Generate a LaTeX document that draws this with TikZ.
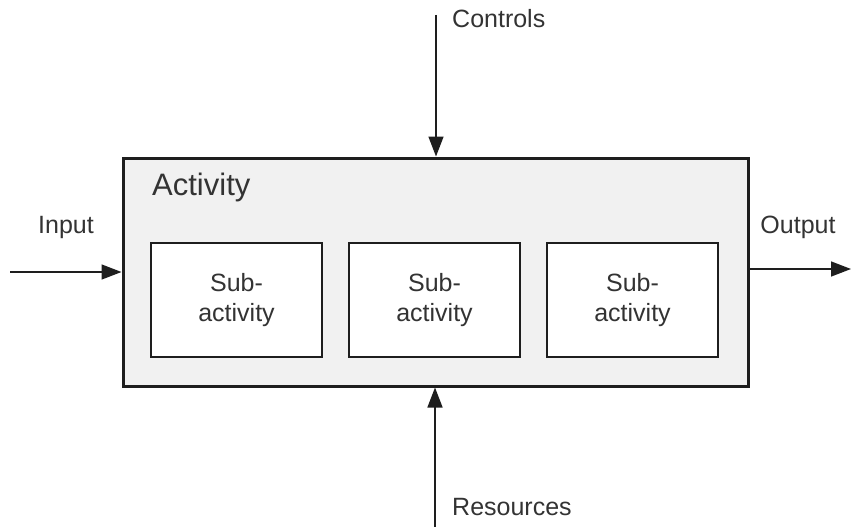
\documentclass[tikz,border=0pt]{standalone}
\usepackage{fontspec}
\setmainfont{Liberation Sans}
\usetikzlibrary{arrows.meta}
\definecolor{inkline}{HTML}{1E1E1E}
\definecolor{inktext}{HTML}{333333}
\definecolor{actfill}{HTML}{F1F1F1}
\begin{document}
\begin{tikzpicture}[x=1pt,y=-1pt,
  lbl/.style={font=\fontsize{25}{29}\selectfont, text=inktext, inner sep=0pt},
  subbox/.style={draw=inkline, line width=1.5pt, fill=white,
    minimum width=171pt, minimum height=114pt, align=center, inner sep=0pt,
    font=\fontsize{25}{30}\selectfont, text=inktext},
  flow/.style={draw=inkline, line width=1.5pt,
    -{Triangle[length=20pt,width=15pt]}}]
\useasboundingbox (0,0) rectangle (851,527);

% the activity box
\node[draw=inkline, line width=3pt, fill=actfill, minimum width=625pt,
  minimum height=228pt, inner sep=0pt] (act) at (435.5,272) {};
\node[anchor=base west, inner sep=0pt, font=\fontsize{31}{35}\selectfont,
  text=inktext] (acttitle) at (152,195) {Activity};

% sub-activities
\node[subbox] (sub1) at (236.5,300) {Sub-\\activity};
\node[subbox] (sub2) at (434.5,300) {Sub-\\activity};
\node[subbox] (sub3) at (632.5,300) {Sub-\\activity};

% free ends of the connectors
\coordinate (ctrl) at (436,15);
\coordinate (res) at (435,527);
\coordinate (in) at (10,272);
\coordinate (out) at (851,269);

% connectors
\draw[flow] (ctrl) -- (ctrl |- act.north);
\draw[flow] (res) -- (res |- act.south);
\draw[flow] (in) -- (in -| act.west);
\draw[flow] (act.east |- out) -- (out);

% labels
\node[lbl, anchor=base west] (ctrllbl) at (452,28) {Controls};
\node[lbl, anchor=base west] (reslbl) at (452,515) {Resources};
\node[lbl, anchor=base] (inlbl) at (66,233) {Input};
\node[lbl, anchor=base] (outlbl) at (798,233) {Output};
\end{tikzpicture}
\end{document}
